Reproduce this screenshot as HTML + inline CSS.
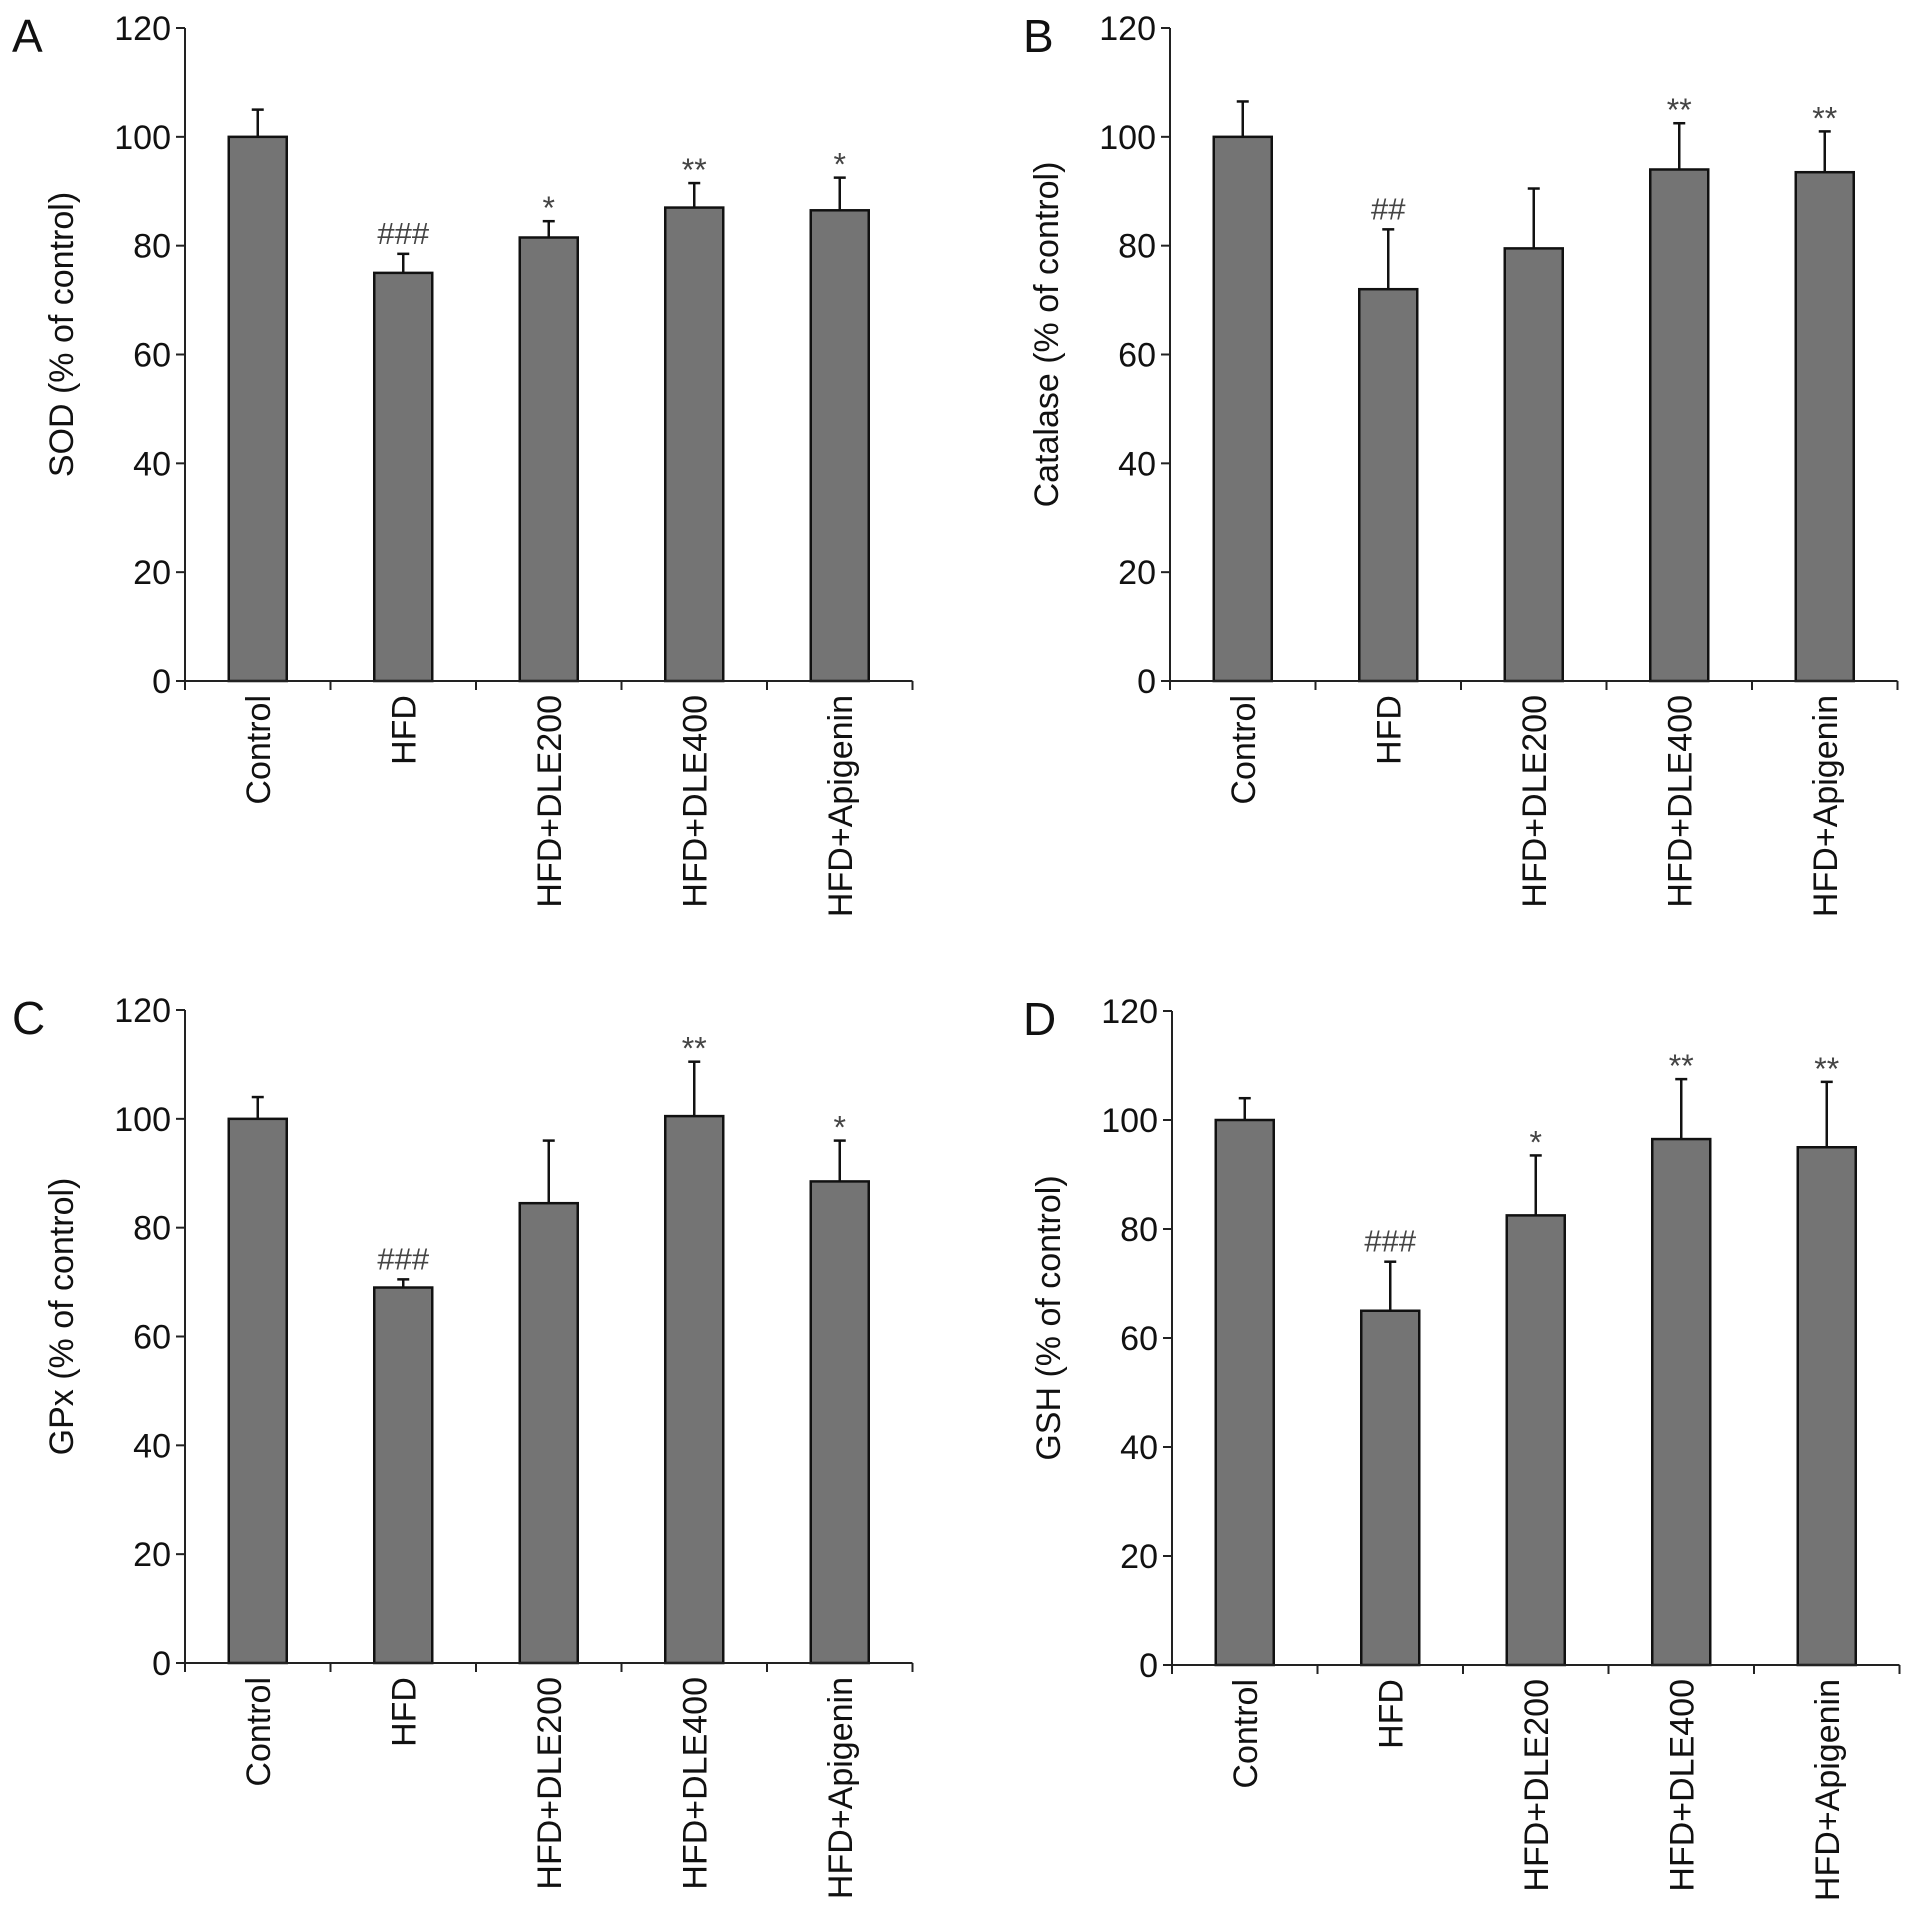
<!DOCTYPE html>
<html><head><meta charset="utf-8"><style>
html,body{margin:0;padding:0;background:#fff}
svg{display:block;font-family:"Liberation Sans",Arial,sans-serif}
</style></head><body>
<svg id="fig" width="1913" height="1918" viewBox="0 0 1913 1918" xmlns="http://www.w3.org/2000/svg"></svg>
<script>
const categories = ["Control","HFD","HFD+DLE200","HFD+DLE400","HFD+Apigenin"];
const yTicks = [0,20,40,60,80,100,120];
const sodValues = [100,75,81.5,87,86.5];
const sodErrors = [5,3.5,3,4.5,6];
const sodMarks = ["","###","*","**","*"];
const catValues = [100,72,79.5,94,93.5];
const catErrors = [6.5,11,11,8.5,7.5];
const catMarks = ["","##","","**","**"];
const gpxValues = [100,69,84.5,100.5,88.5];
const gpxErrors = [4,1.5,11.5,10,7.5];
const gpxMarks = ["","###","","**","*"];
const gshValues = [100,65,82.5,96.5,95];
const gshErrors = [4,9,11,11,12];
const gshMarks = ["","###","*","**","**"];

const panels = [
 {id:"a",letter:"A",title:"SOD (% of control)",vals:sodValues,errs:sodErrors,marks:sodMarks,x0:185,y0:681,yTop:28,lx:12,ly:52},
 {id:"b",letter:"B",title:"Catalase (% of control)",vals:catValues,errs:catErrors,marks:catMarks,x0:1170,y0:681,yTop:28,lx:1023,ly:52},
 {id:"c",letter:"C",title:"GPx (% of control)",vals:gpxValues,errs:gpxErrors,marks:gpxMarks,x0:185,y0:1663,yTop:1010,lx:12,ly:1034},
 {id:"d",letter:"D",title:"GSH (% of control)",vals:gshValues,errs:gshErrors,marks:gshMarks,x0:1172,y0:1665,yTop:1011,lx:1023,ly:1035}
];
const NS="http://www.w3.org/2000/svg";
const svg=document.getElementById("fig");
function mk(tag,attrs,parent,text){const e=document.createElementNS(NS,tag);for(const k in attrs)e.setAttribute(k,attrs[k]);if(text!==undefined)e.textContent=text;parent.appendChild(e);return e;}
const catW=145.5, barW=58;
panels.forEach(p=>{
  const g=mk("g",{},svg);
  
  
  const yS=v=>p.y0-(v/120)*(p.y0-p.yTop);
  const xC=i=>p.x0+catW*(i+0.5);
  const L=mk("text",{x:p.lx,y:p.ly,"font-size":46,fill:"#111"},g,p.letter);
  
  
  p.vals.forEach((v,i)=>{
    const top=yS(v+p.errs[i]);
    const eb=mk("g",{},g);
    
    
    mk("line",{x1:xC(i),x2:xC(i),y1:yS(v),y2:top,stroke:"#111","stroke-width":2.5},eb);
    mk("line",{x1:xC(i)-6,x2:xC(i)+6,y1:top,y2:top,stroke:"#111","stroke-width":2.5},eb);
    const b=mk("rect",{x:xC(i)-barW/2,y:yS(v),width:barW,height:p.y0-yS(v),fill:"#747474",stroke:"#111","stroke-width":2.5},g);
    
    
    if(p.marks[i]){
      const isHash=p.marks[i][0]=="#";
      const m=mk("text",{x:xC(i),y:top-(isHash?10:2),"text-anchor":"middle","font-size":isHash?31:32,fill:"#444"},g,p.marks[i]);
      
      
    }
    const t=mk("text",{transform:`translate(${xC(i)+12},${p.y0+14}) rotate(-90)`,"text-anchor":"end","font-size":34,fill:"#111"},g,categories[i]);
    
    
  });
  const ax=mk("path",{d:`M${p.x0},${p.yTop}V${p.y0}H${p.x0+catW*5}`,fill:"none",stroke:"#222","stroke-width":2},g);
  
  
  for(let k=0;k<=5;k++) mk("line",{x1:p.x0+catW*k,x2:p.x0+catW*k,y1:p.y0,y2:p.y0+9,stroke:"#222","stroke-width":2},g);
  yTicks.forEach(t=>{
    mk("line",{x1:p.x0-9,x2:p.x0,y1:yS(t),y2:yS(t),stroke:"#222","stroke-width":2},g);
    const tl=mk("text",{x:p.x0-14,y:yS(t)+12,"text-anchor":"end","font-size":34,fill:"#111"},g,String(t));
    
    
  });
  const yt=mk("text",{transform:`translate(${p.x0-112},${(p.y0+p.yTop)/2-20}) rotate(-90)`,"text-anchor":"middle","font-size":34,fill:"#111"},g,p.title);
  
  
});
</script>
</body></html>
